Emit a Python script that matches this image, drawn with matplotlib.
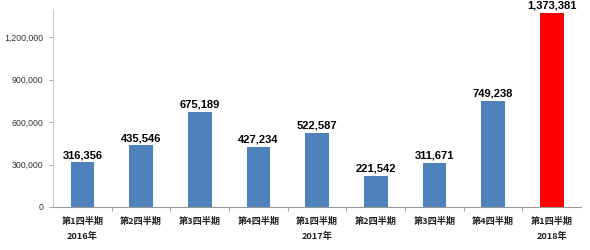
import matplotlib
matplotlib.use("Agg")
import matplotlib.pyplot as plt
from matplotlib.ticker import FuncFormatter, FixedLocator

quarters = ["第1四半期", "第2四半期", "第3四半期", "第4四半期",
            "第1四半期", "第2四半期", "第3四半期", "第4四半期", "第1四半期"]
years = ["2016年", "", "", "", "2017年", "", "", "", "2018年"]
values = [316356, 435546, 675189, 427234, 522587, 221542, 311671, 749238, 1373381]
colors = ["#4F81BD"] * 8 + ["#FF0000"]
yticks = [0, 300000, 600000, 900000, 1200000]

cjk = ["Noto Sans CJK JP", "DejaVu Sans"]

fig = plt.figure(figsize=(5.9, 2.5), dpi=100)
ax = fig.add_axes([0.09, 0.172, 0.895, 0.792])

x = list(range(len(values)))
ax.bar(x, values, width=0.4, color=colors, zorder=2)
ax.set_xlim(-0.5, len(values) - 0.5)
ax.set_ylim(0, 1400000)

for xi, v in zip(x, values):
    ax.text(xi, v + 15000, f"{v:,}", ha="center", va="bottom",
            fontsize=8, fontweight="bold", family="Liberation Sans",
            color="black", clip_on=False)

ax.yaxis.set_major_locator(FixedLocator(yticks))
ax.yaxis.set_major_formatter(FuncFormatter(lambda v, p: f"{int(v):,}"))
for lab in ax.get_yticklabels():
    lab.set_family("Liberation Sans")
    lab.set_fontsize(6.3)
    lab.set_color("#333333")
ax.tick_params(axis="y", length=3, width=0.6, color="#999999", pad=4)

ax.set_xticks(x)
ax.set_xticklabels([])
ax.set_xticks([i + 0.5 for i in range(len(values) - 1)], minor=True)
ax.tick_params(axis="x", which="major", length=0)
ax.tick_params(axis="x", which="minor", length=3, width=0.6, color="#999999", direction="out")

for xi, q, yr in zip(x, quarters, years):
    ax.annotate(q, xy=(xi, 0), xycoords=("data", "axes fraction"),
                xytext=(0, -7), textcoords="offset points", ha="center", va="top",
                fontsize=6.6, fontweight="bold", family=cjk, color="#222222")
    if yr:
        ax.annotate(yr, xy=(xi, 0), xycoords=("data", "axes fraction"),
                    xytext=(0, -17.5), textcoords="offset points", ha="center", va="top",
                    fontsize=6.6, fontweight="bold", family=cjk, color="#222222")

for s in ["top", "right"]:
    ax.spines[s].set_visible(False)
ax.spines["left"].set_color("#CCCCCC")
ax.spines["left"].set_linewidth(0.8)
ax.spines["bottom"].set_color("#999999")
ax.spines["bottom"].set_linewidth(0.8)

fig.savefig("out.png", dpi=100)
